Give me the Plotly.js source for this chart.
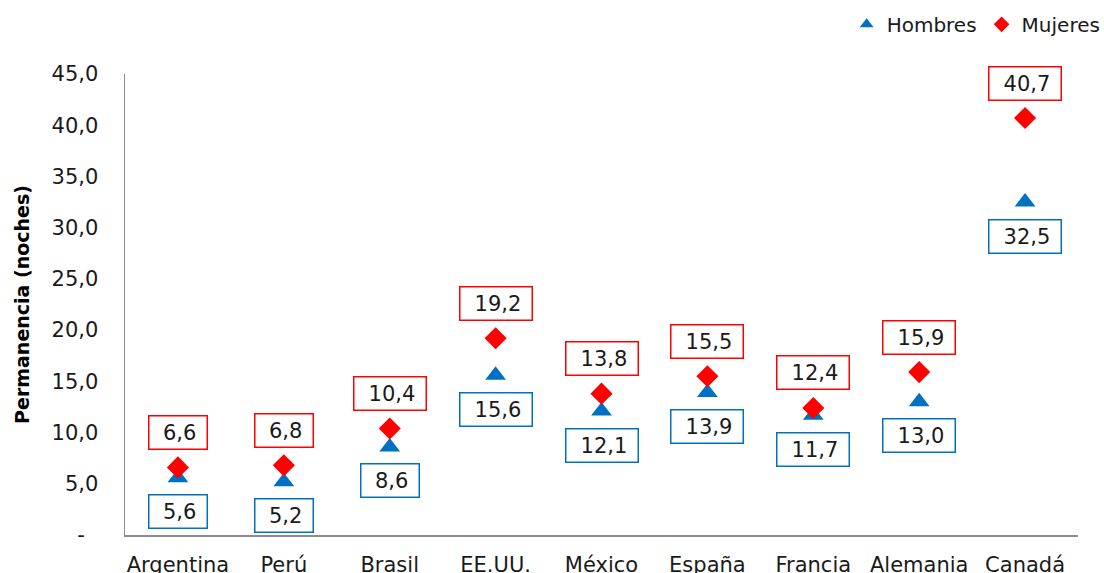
<!DOCTYPE html>
<html>
<head>
<meta charset="utf-8">
<script src="https://cdn.plot.ly/plotly-3.0.1.min.js"></script>
<style>html,body{margin:0;padding:0;background:#fff;} #chart{width:1104px;height:573px;}</style>
</head>
<body>
<div id="chart"></div>
<script>
const categories = ["Argentina", "Perú", "Brasil", "EE.UU.", "México", "España", "Francia", "Alemania", "Canadá"];
const hombres = [5.6, 5.2, 8.6, 15.6, 12.1, 13.9, 11.7, 13.0, 32.5];
const mujeres = [6.6, 6.8, 10.4, 19.2, 13.8, 15.5, 12.4, 15.9, 40.7];
const tickValues = [0, 5, 10, 15, 20, 25, 30, 35, 40, 45];
const tickLabels = ["-\u00a0\u00a0", "5,0", "10,0", "15,0", "20,0", "25,0", "30,0", "35,0", "40,0", "45,0"];

const FONT = "DejaVu Sans, Verdana, sans-serif";
const BLUE = "#0070C0";
const RED = "#FF0000";

function fmt(v) { return v.toFixed(1).replace(".", ","); }

const traces = [
  {
    type: "scatter", mode: "markers", name: "Hombres",
    x: categories, y: hombres,
    marker: { symbol: "triangle-up", size: 18, color: BLUE },
    cliponaxis: false
  },
  {
    type: "scatter", mode: "markers", name: "Mujeres",
    x: categories, y: mujeres,
    marker: { symbol: "diamond", size: 17, color: RED },
    cliponaxis: false
  }
];

const annotations = [];
function addLabels(vals, color, shift) {
  vals.forEach((v, i) => {
    const t = fmt(v);
    annotations.push({
      x: categories[i], y: v, xref: "x", yref: "y",
      text: t + "\u00a0", showarrow: false,
      font: { family: FONT, size: 21, color: "#1a1a1a" },
      bordercolor: color, borderwidth: 1.5, borderpad: 3.5,
      bgcolor: "rgba(255,255,255,0)",
      width: 14 * t.length + 8, height: 25, align: "right",
      yshift: shift
    });
  });
}
addLabels(mujeres, RED, 35);
addLabels(hombres, BLUE, -34);

const layout = {
  width: 1104, height: 573,
  margin: { l: 125, r: 26, t: 74, b: 38, autoexpand: false },
  paper_bgcolor: "#fff", plot_bgcolor: "#fff",
  font: { family: FONT, size: 21, color: "#1a1a1a" },
  showlegend: true,
  legend: {
    orientation: "h", x: 1.029, xanchor: "right", y: 1.15, yanchor: "top",
    font: { family: FONT, size: 20, color: "#1a1a1a" },
    itemwidth: 30, tracegroupgap: 0, itemsizing: "constant"
  },
  xaxis: {
    type: "category", range: [-0.5, categories.length - 0.5],
    showline: true, linecolor: "#8c8c8c", linewidth: 1.5,
    showgrid: false, zeroline: false, ticks: "", ticklabelstandoff: 10,
    tickfont: { family: FONT, size: 21, color: "#1a1a1a" },
    fixedrange: true
  },
  yaxis: {
    range: [0, 45], showline: true, linecolor: "#8c8c8c", linewidth: 1.5,
    showgrid: false, zeroline: false, ticks: "",
    tickvals: tickValues, ticktext: tickLabels, ticklabelstandoff: 21,
    tickfont: { family: FONT, size: 21, color: "#1a1a1a" },
    title: { text: "<b>Permanencia (noches)</b>", font: { family: FONT, size: 19, color: "#000" }, standoff: 17 },
    fixedrange: true
  },
  annotations: annotations
};

Plotly.newPlot("chart", traces, layout, { displayModeBar: false, staticPlot: true });
</script>
</body>
</html>
